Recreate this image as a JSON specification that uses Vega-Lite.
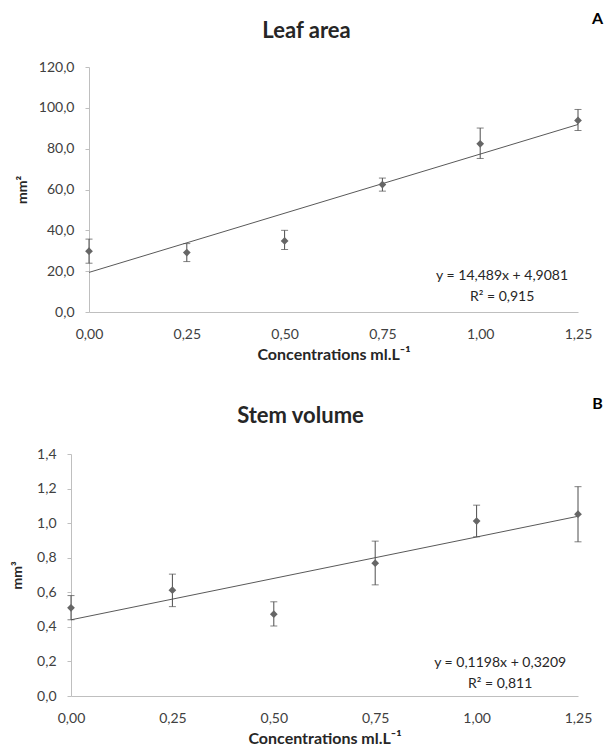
{
  "$schema": "https://vega.github.io/schema/vega-lite/v6.json",
  "padding": {"top": 11, "left": 10, "right": 0, "bottom": 0},
  "background": "white",
  "spacing": 33,
  "datasets": {
    "leaf": [
      {"conc": 0.0, "mean": 29.8, "lo": 23.9, "hi": 35.7},
      {"conc": 0.25, "mean": 29.1, "lo": 24.7, "hi": 33.5},
      {"conc": 0.5, "mean": 34.8, "lo": 30.6, "hi": 40.0},
      {"conc": 0.75, "mean": 62.4, "lo": 59.2, "hi": 65.6},
      {"conc": 1.0, "mean": 82.4, "lo": 75.2, "hi": 90.1},
      {"conc": 1.25, "mean": 93.8, "lo": 88.9, "hi": 99.2}
    ],
    "leafTrend": [
      {"conc": 0.0, "fit": 19.397},
      {"conc": 1.25, "fit": 91.842}
    ],
    "stem": [
      {"conc": 0.0, "mean": 0.51, "lo": 0.441, "hi": 0.581},
      {"conc": 0.25, "mean": 0.612, "lo": 0.517, "hi": 0.705},
      {"conc": 0.5, "mean": 0.473, "lo": 0.405, "hi": 0.545},
      {"conc": 0.75, "mean": 0.768, "lo": 0.643, "hi": 0.896},
      {"conc": 1.0, "mean": 1.012, "lo": 0.921, "hi": 1.104},
      {"conc": 1.25, "mean": 1.052, "lo": 0.892, "hi": 1.211}
    ],
    "stemTrend": [
      {"conc": 0.0, "fit": 0.4407},
      {"conc": 1.25, "fit": 1.0397}
    ]
  },
  "config": {
    "font": "Lato",
    "view": {"stroke": null},
    "axis": {
      "grid": false,
      "domainColor": "#bfbfbf",
      "tickColor": "#bfbfbf",
      "labelFont": "Lato",
      "labelFontSize": 14,
      "labelColor": "#404040",
      "titleFont": "Lato",
      "titleFontSize": 14,
      "titleFontWeight": "bold",
      "titleColor": "#262626"
    },
    "axisX": {"ticks": false, "tickSize": 0, "labelPadding": 15, "titlePadding": 5, "labelFlush": false, "titleFontSize": 16},
    "axisY": {"tickSize": 4, "labelPadding": 11, "titleBaseline": "middle"},
    "title": {"font": "Lato", "fontSize": 22, "fontWeight": "bold", "color": "#262626", "offset": 0}
  },
  "vconcat": [
    {
      "width": 489,
      "height": 245,
      "title": {"text": "Leaf area", "dx": -27, "dy": 36},
      "layer": [
        {
          "data": {"name": "leafTrend"},
          "mark": {"type": "line", "color": "#595959", "strokeWidth": 1},
          "encoding": {
            "x": {"field": "conc", "type": "quantitative", "scale": {"domain": [0, 1.25], "nice": false},
              "axis": {"values": [0, 0.25, 0.5, 0.75, 1, 1.25], "labelExpr": "replace(format(datum.value, '.2f'), '.', ',')", "title": "Concentrations ml.L⁻¹"}},
            "y": {"field": "fit", "type": "quantitative", "scale": {"domain": [0, 120], "nice": false},
              "axis": {"values": [0, 20, 40, 60, 80, 100, 120], "labelExpr": "replace(format(datum.value, '.1f'), '.', ',')", "title": "mm²", "titleX": -67}}
          }
        },
        {
          "data": {"name": "leaf"},
          "mark": {"type": "rule", "color": "#4d4d4d"},
          "encoding": {
            "x": {"field": "conc", "type": "quantitative",
              "axis": {"values": [0, 0.25, 0.5, 0.75, 1, 1.25], "labelExpr": "replace(format(datum.value, '.2f'), '.', ',')", "title": "Concentrations ml.L⁻¹"}},
            "y": {"field": "lo", "type": "quantitative",
              "axis": {"values": [0, 20, 40, 60, 80, 100, 120], "labelExpr": "replace(format(datum.value, '.1f'), '.', ',')", "title": "mm²", "titleX": -67}},
            "y2": {"field": "hi"}
          }
        },
        {
          "data": {"name": "leaf"},
          "mark": {"type": "tick", "orient": "horizontal", "color": "#4d4d4d", "size": 7, "thickness": 1},
          "encoding": {
            "x": {"field": "conc", "type": "quantitative",
              "axis": {"values": [0, 0.25, 0.5, 0.75, 1, 1.25], "labelExpr": "replace(format(datum.value, '.2f'), '.', ',')", "title": "Concentrations ml.L⁻¹"}},
            "y": {"field": "lo", "type": "quantitative",
              "axis": {"values": [0, 20, 40, 60, 80, 100, 120], "labelExpr": "replace(format(datum.value, '.1f'), '.', ',')", "title": "mm²", "titleX": -67}}
          }
        },
        {
          "data": {"name": "leaf"},
          "mark": {"type": "tick", "orient": "horizontal", "color": "#4d4d4d", "size": 7, "thickness": 1},
          "encoding": {
            "x": {"field": "conc", "type": "quantitative",
              "axis": {"values": [0, 0.25, 0.5, 0.75, 1, 1.25], "labelExpr": "replace(format(datum.value, '.2f'), '.', ',')", "title": "Concentrations ml.L⁻¹"}},
            "y": {"field": "hi", "type": "quantitative",
              "axis": {"values": [0, 20, 40, 60, 80, 100, 120], "labelExpr": "replace(format(datum.value, '.1f'), '.', ',')", "title": "mm²", "titleX": -67}}
          }
        },
        {
          "data": {"name": "leaf"},
          "mark": {"type": "point", "shape": "diamond", "filled": true, "size": 60, "color": "#666666", "opacity": 1},
          "encoding": {
            "x": {"field": "conc", "type": "quantitative",
              "axis": {"values": [0, 0.25, 0.5, 0.75, 1, 1.25], "labelExpr": "replace(format(datum.value, '.2f'), '.', ',')", "title": "Concentrations ml.L⁻¹"}},
            "y": {"field": "mean", "type": "quantitative",
              "axis": {"values": [0, 20, 40, 60, 80, 100, 120], "labelExpr": "replace(format(datum.value, '.1f'), '.', ',')", "title": "mm²", "titleX": -67}}
          }
        },
        {
          "data": {"values": [{"note": "y = 14,489x + 4,9081"}]},
          "mark": {"type": "text", "fontSize": 14, "align": "center", "baseline": "middle", "color": "#262626"},
          "encoding": {
            "text": {"field": "note"},
            "x": {"datum": 1.056, "axis": {"values": [0, 0.25, 0.5, 0.75, 1, 1.25], "labelExpr": "replace(format(datum.value, '.2f'), '.', ',')", "title": "Concentrations ml.L⁻¹"}},
            "y": {"datum": 17.4, "axis": {"values": [0, 20, 40, 60, 80, 100, 120], "labelExpr": "replace(format(datum.value, '.1f'), '.', ',')", "title": "mm²", "titleX": -67}}
          }
        },
        {
          "data": {"values": [{"note": "R² = 0,915"}]},
          "mark": {"type": "text", "fontSize": 14, "align": "center", "baseline": "middle", "color": "#262626"},
          "encoding": {
            "text": {"field": "note"},
            "x": {"datum": 1.056, "axis": {"values": [0, 0.25, 0.5, 0.75, 1, 1.25], "labelExpr": "replace(format(datum.value, '.2f'), '.', ',')", "title": "Concentrations ml.L⁻¹"}},
            "y": {"datum": 7.15, "axis": {"values": [0, 20, 40, 60, 80, 100, 120], "labelExpr": "replace(format(datum.value, '.1f'), '.', ',')", "title": "mm²", "titleX": -67}}
          }
        },
        {
          "data": {"values": [{"note": "A"}]},
          "mark": {"type": "text", "fontSize": 16, "fontWeight": "bold", "align": "center", "baseline": "middle", "color": "#000000"},
          "encoding": {
            "text": {"field": "note"},
            "x": {"datum": 1.3, "axis": {"values": [0, 0.25, 0.5, 0.75, 1, 1.25], "labelExpr": "replace(format(datum.value, '.2f'), '.', ',')", "title": "Concentrations ml.L⁻¹"}},
            "y": {"datum": 143.5, "axis": {"values": [0, 20, 40, 60, 80, 100, 120], "labelExpr": "replace(format(datum.value, '.1f'), '.', ',')", "title": "mm²", "titleX": -67}}
          }
        }
      ]
    },
    {
      "width": 489,
      "height": 242,
      "title": {"text": "Stem volume", "dx": -33, "dy": 36},
      "layer": [
        {
          "data": {"name": "stemTrend"},
          "mark": {"type": "line", "color": "#595959", "strokeWidth": 1},
          "encoding": {
            "x": {"field": "conc", "type": "quantitative", "scale": {"domain": [0, 1.25], "nice": false, "range": [-18, 489]},
              "axis": {"values": [0, 0.25, 0.5, 0.75, 1, 1.25], "labelExpr": "replace(format(datum.value, '.2f'), '.', ',')", "title": "Concentrations ml.L⁻¹"}},
            "y": {"field": "fit", "type": "quantitative", "scale": {"domain": [0, 1.4], "nice": false},
              "axis": {"values": [0, 0.2, 0.4, 0.6, 0.8, 1, 1.2, 1.4], "labelExpr": "replace(format(datum.value, '.1f'), '.', ',')", "title": "mm³", "offset": 18, "titleX": -54}}
          }
        },
        {
          "data": {"name": "stem"},
          "mark": {"type": "rule", "color": "#4d4d4d"},
          "encoding": {
            "x": {"field": "conc", "type": "quantitative",
              "axis": {"values": [0, 0.25, 0.5, 0.75, 1, 1.25], "labelExpr": "replace(format(datum.value, '.2f'), '.', ',')", "title": "Concentrations ml.L⁻¹"}},
            "y": {"field": "lo", "type": "quantitative",
              "axis": {"values": [0, 0.2, 0.4, 0.6, 0.8, 1, 1.2, 1.4], "labelExpr": "replace(format(datum.value, '.1f'), '.', ',')", "title": "mm³", "offset": 18, "titleX": -54}},
            "y2": {"field": "hi"}
          }
        },
        {
          "data": {"name": "stem"},
          "mark": {"type": "tick", "orient": "horizontal", "color": "#4d4d4d", "size": 7, "thickness": 1},
          "encoding": {
            "x": {"field": "conc", "type": "quantitative",
              "axis": {"values": [0, 0.25, 0.5, 0.75, 1, 1.25], "labelExpr": "replace(format(datum.value, '.2f'), '.', ',')", "title": "Concentrations ml.L⁻¹"}},
            "y": {"field": "lo", "type": "quantitative",
              "axis": {"values": [0, 0.2, 0.4, 0.6, 0.8, 1, 1.2, 1.4], "labelExpr": "replace(format(datum.value, '.1f'), '.', ',')", "title": "mm³", "offset": 18, "titleX": -54}}
          }
        },
        {
          "data": {"name": "stem"},
          "mark": {"type": "tick", "orient": "horizontal", "color": "#4d4d4d", "size": 7, "thickness": 1},
          "encoding": {
            "x": {"field": "conc", "type": "quantitative",
              "axis": {"values": [0, 0.25, 0.5, 0.75, 1, 1.25], "labelExpr": "replace(format(datum.value, '.2f'), '.', ',')", "title": "Concentrations ml.L⁻¹"}},
            "y": {"field": "hi", "type": "quantitative",
              "axis": {"values": [0, 0.2, 0.4, 0.6, 0.8, 1, 1.2, 1.4], "labelExpr": "replace(format(datum.value, '.1f'), '.', ',')", "title": "mm³", "offset": 18, "titleX": -54}}
          }
        },
        {
          "data": {"name": "stem"},
          "mark": {"type": "point", "shape": "diamond", "filled": true, "size": 60, "color": "#666666", "opacity": 1},
          "encoding": {
            "x": {"field": "conc", "type": "quantitative",
              "axis": {"values": [0, 0.25, 0.5, 0.75, 1, 1.25], "labelExpr": "replace(format(datum.value, '.2f'), '.', ',')", "title": "Concentrations ml.L⁻¹"}},
            "y": {"field": "mean", "type": "quantitative",
              "axis": {"values": [0, 0.2, 0.4, 0.6, 0.8, 1, 1.2, 1.4], "labelExpr": "replace(format(datum.value, '.1f'), '.', ',')", "title": "mm³", "offset": 18, "titleX": -54}}
          }
        },
        {
          "data": {"values": [{"note": "y = 0,1198x + 0,3209"}]},
          "mark": {"type": "text", "fontSize": 14, "align": "center", "baseline": "middle", "color": "#262626"},
          "encoding": {
            "text": {"field": "note"},
            "x": {"datum": 1.058, "axis": {"values": [0, 0.25, 0.5, 0.75, 1, 1.25], "labelExpr": "replace(format(datum.value, '.2f'), '.', ',')", "title": "Concentrations ml.L⁻¹"}},
            "y": {"datum": 0.1915, "axis": {"values": [0, 0.2, 0.4, 0.6, 0.8, 1, 1.2, 1.4], "labelExpr": "replace(format(datum.value, '.1f'), '.', ',')", "title": "mm³", "offset": 18, "titleX": -54}}
          }
        },
        {
          "data": {"values": [{"note": "R² = 0,811"}]},
          "mark": {"type": "text", "fontSize": 14, "align": "center", "baseline": "middle", "color": "#262626"},
          "encoding": {
            "text": {"field": "note"},
            "x": {"datum": 1.058, "axis": {"values": [0, 0.25, 0.5, 0.75, 1, 1.25], "labelExpr": "replace(format(datum.value, '.2f'), '.', ',')", "title": "Concentrations ml.L⁻¹"}},
            "y": {"datum": 0.0682, "axis": {"values": [0, 0.2, 0.4, 0.6, 0.8, 1, 1.2, 1.4], "labelExpr": "replace(format(datum.value, '.1f'), '.', ',')", "title": "mm³", "offset": 18, "titleX": -54}}
          }
        },
        {
          "data": {"values": [{"note": "B"}]},
          "mark": {"type": "text", "fontSize": 16, "fontWeight": "bold", "align": "center", "baseline": "middle", "color": "#000000"},
          "encoding": {
            "text": {"field": "note"},
            "x": {"datum": 1.298, "axis": {"values": [0, 0.25, 0.5, 0.75, 1, 1.25], "labelExpr": "replace(format(datum.value, '.2f'), '.', ',')", "title": "Concentrations ml.L⁻¹"}},
            "y": {"datum": 1.691, "axis": {"values": [0, 0.2, 0.4, 0.6, 0.8, 1, 1.2, 1.4], "labelExpr": "replace(format(datum.value, '.1f'), '.', ',')", "title": "mm³", "offset": 18, "titleX": -54}}
          }
        }
      ]
    }
  ]
}
